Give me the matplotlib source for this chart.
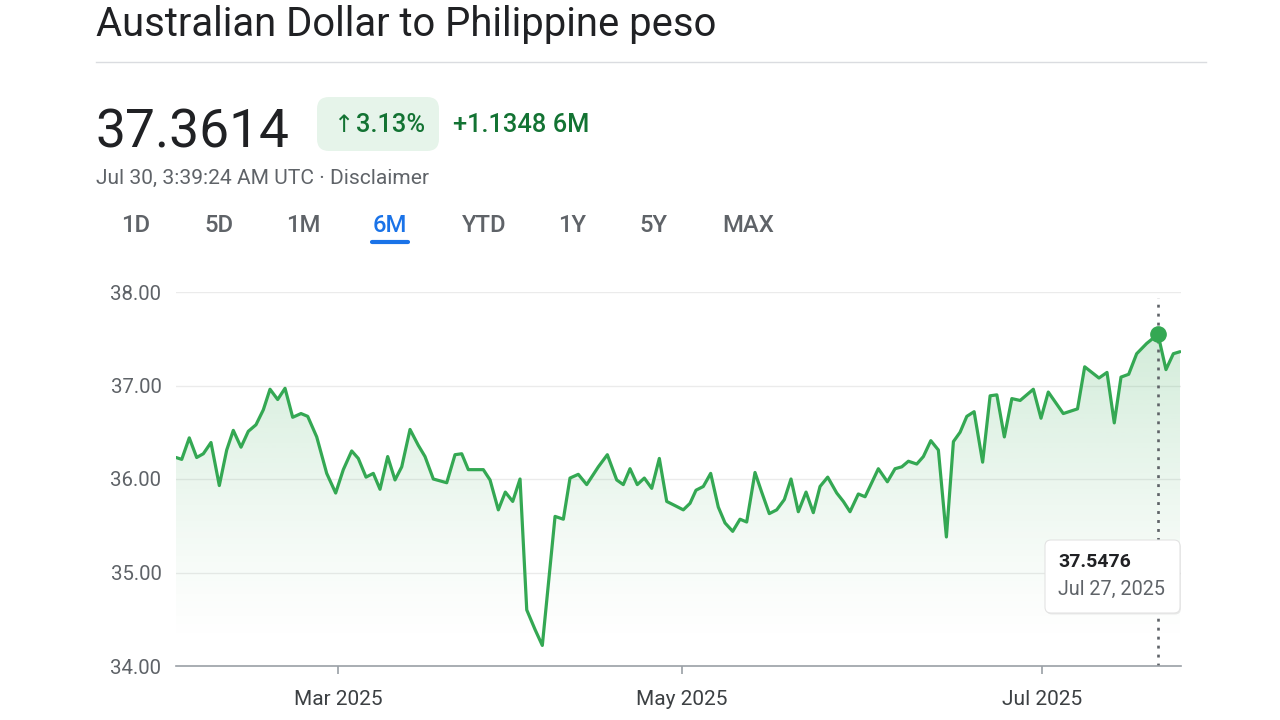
import datetime as dt

import numpy as np
from matplotlib import pyplot as plt
from matplotlib.lines import Line2D
from matplotlib.patches import FancyBboxPatch

plt.rcParams['font.family'] = ['Roboto', 'DejaVu Sans']

# AUD -> PHP, six months to Jul 30 2025 (x = days since Jan 30 2025)
start_date = dt.date(2025, 1, 30)
days = [0, 1.06, 2.46, 3.83, 5.06, 6.48, 8.02, 9.39, 10.61, 12.04, 13.39, 14.81, 16.17,
        17.41, 18.83, 20.19, 21.61, 23.15, 24.39, 26.06, 27.91, 29.57, 30.94, 32.43,
        33.6, 34.97, 36.26, 37.45, 38.81, 40.11, 41.3, 42.77, 44.24, 45.43, 46.9, 49.28,
        50.75, 51.94, 53.11, 55.77, 56.96, 58.43, 59.67, 60.98, 62.28, 63.47, 64.94,
        66.23, 68.49, 69.96, 71.14, 72.61, 74.1, 76.16, 77.76, 79.42, 80.59, 81.78, 83.07,
        84.32, 85.63, 86.98, 88.29, 89.94, 91.22, 92.36, 93.37, 94.61, 95.86, 97.15, 98.29,
        99.59, 100.83, 101.96, 103.37, 104.5, 105.79, 107.05, 108.34, 109.47, 110.71,
        112.02, 113.25, 114.39, 115.69, 117.22, 118.34, 119.47, 120.88, 122.02, 124.27,
        125.8, 127.1, 128.24, 129.36, 130.78, 131.9, 133.16, 134.44, 135.8, 136.99,
        138.12, 139.26, 140.5, 141.94, 143.21, 144.35, 145.62, 146.89, 148.3, 150.53,
        151.83, 153.41, 156.77, 159.96, 161.57, 164.77, 166.57, 168.2, 169.71, 171.43,
        173.22, 175.47, 178, 179.04, 180, 180.87]
rate = [36.23, 36.21, 36.44, 36.23, 36.27, 36.39, 35.93, 36.31, 36.52, 36.34, 36.51, 36.58,
        36.74, 36.96, 36.85, 36.97, 36.66, 36.70, 36.67, 36.45, 36.06, 35.85, 36.10, 36.30,
        36.22, 36.02, 36.06, 35.89, 36.24, 35.99, 36.13, 36.53, 36.36, 36.24, 36.00, 35.96,
        36.26, 36.27, 36.10, 36.10, 35.99, 35.67, 35.86, 35.76, 36.00, 34.60, 34.39, 34.22,
        35.60, 35.57, 36.01, 36.05, 35.94, 36.13, 36.26, 35.99, 35.94, 36.11, 35.94, 36.01,
        35.90, 36.22, 35.76, 35.71, 35.67, 35.74, 35.88, 35.92, 36.06, 35.70, 35.53, 35.44,
        35.57, 35.54, 36.07, 35.86, 35.63, 35.67, 35.78, 36.00, 35.65, 35.86, 35.64, 35.92,
        36.02, 35.85, 35.76, 35.65, 35.84, 35.81, 36.11, 35.97, 36.11, 36.13, 36.19, 36.16,
        36.24, 36.41, 36.31, 35.38, 36.40, 36.50, 36.67, 36.72, 36.18, 36.89, 36.90, 36.45,
        36.86, 36.84, 36.96, 36.65, 36.93, 36.70, 36.75, 37.20, 37.08, 37.14, 36.60, 37.09,
        37.12, 37.34, 37.45, 37.5476, 37.17, 37.34, 37.3614]

tick_dates = [dt.date(2025, 3, 1), dt.date(2025, 5, 1), dt.date(2025, 7, 1)]
tick_labels = ['Mar 2025', 'May 2025', 'Jul 2025']
y_ticks = [34, 35, 36, 37, 38]
ranges = ['1D', '5D', '1M', '6M', 'YTD', '1Y', '5Y', 'MAX']
range_x = [136, 219, 303, 390, 484, 572, 653, 748]
selected_range = '6M'
hover_date = dt.date(2025, 7, 27)
hover_value = 37.5476
end_date = dt.date(2025, 7, 30)

# the source chart spaces points by sample, not by calendar day:
# day -> horizontal position calibration taken from its month ticks
axis_days = [0, 30, 91, 152, 178, 181]
axis_pos = [0, 162, 506, 866, 982, 1005]

GREEN = '#34a853'
DARK_GREEN = '#137333'
GRAY = '#5f6368'


def fx(px):
    return px / 1280


def fy(py):
    return 1 - py / 720


def day_to_pos(d):
    return np.interp(d, axis_days, axis_pos)


def pos_to_day(p):
    return np.interp(p, axis_pos, axis_days)


fig = plt.figure(figsize=(12.8, 7.2), dpi=100)
fig.patch.set_facecolor('white')

# header
fig.text(fx(96), fy(36), 'Australian Dollar to Philippine peso', fontsize=28.8,
         color='#202124', va='baseline')
fig.add_artist(Line2D([fx(96), fx(1206)], [fy(62), fy(62)], color='#dadce0', lw=1))
fig.text(fx(95), fy(148), '37.3614', fontsize=38.3, color='#202124', va='baseline')
fig.patches.append(FancyBboxPatch((3.17, 5.69), 1.22, 0.54,
                                  boxstyle='round,pad=0,rounding_size=0.12',
                                  transform=fig.dpi_scale_trans, facecolor='#e6f4ea',
                                  edgecolor='none'))
fig.text(fx(333), fy(125), '↑', fontsize=17.5, color=DARK_GREEN, va='center',
         family=['DejaVu Sans'])
fig.text(fx(356), fy(125), '3.13%', fontsize=18.3, color=DARK_GREEN, va='center',
         fontweight='medium')
fig.text(fx(453), fy(125), '+1.1348 6M', fontsize=18.3, color=DARK_GREEN, va='center',
         fontweight='medium')
fig.text(fx(96), fy(178), 'Jul 30, 3:39:24 AM UTC · Disclaimer', fontsize=15.1,
         color=GRAY, va='center')

for label, px in zip(ranges, range_x):
    col = '#1a73e8' if label == selected_range else GRAY
    fig.text(fx(px), fy(226), label, fontsize=17.2, color=col, ha='center', va='center',
             fontweight='medium')
fig.add_artist(Line2D([fx(372), fx(408)], [fy(242), fy(242)], color='#1a73e8', lw=3,
                      solid_capstyle='round'))

# chart
ax = fig.add_axes([fx(176), fy(666), fx(1181) - fx(176), fy(292) - fy(666)])
ax.set_xscale('function', functions=(day_to_pos, pos_to_day))
end_day = (end_date - start_date).days

fill = ax.fill_between(days, rate, 34, color='none', lw=0)
alpha = np.linspace(0.34, 0.0, 256) ** 1.25
grad = np.zeros((256, 1, 4))
grad[..., 0] = 52 / 255
grad[..., 1] = 168 / 255
grad[..., 2] = 83 / 255
grad[:, 0, 3] = alpha
img = ax.imshow(grad, extent=[0, end_day, 34.2, 38], aspect='auto', origin='upper',
                zorder=1, interpolation='bilinear')
img.set_clip_path(fill.get_paths()[0], transform=ax.transData)
ax.set_xlim(0, end_day)
ax.set_ylim(34, 38)

ax.plot(days, rate, color=GREEN, lw=2.3, zorder=3, solid_joinstyle='round',
        solid_capstyle='round')

hover_day = (hover_date - start_date).days
ax.axvline(hover_day, ymax=0.985, color='#5f6368', lw=1.9, ls=(0, (1.1, 2.3)), zorder=2)
ax.plot([hover_day], [hover_value], 'o', color=GREEN, ms=11, zorder=4)

ax.set_yticks(y_ticks)
ax.set_yticklabels([f'{v:.2f}' for v in y_ticks])
ax.set_xticks([(d - start_date).days for d in tick_dates])
ax.set_xticklabels(tick_labels)
ax.xaxis.set_minor_locator(plt.NullLocator())
ax.grid(axis='y', color='#ebebeb', lw=1)
ax.set_axisbelow(True)
for side in ['top', 'right', 'left']:
    ax.spines[side].set_visible(False)
ax.spines['bottom'].set_color('#9aa0a6')
ax.spines['bottom'].set_linewidth(1.2)
ax.tick_params(axis='y', length=0, pad=10.5, labelsize=14.7, labelcolor=GRAY)
ax.tick_params(axis='x', length=6, width=1.2, color='#9aa0a6', pad=11, labelsize=15,
               labelcolor='#3c4043')

# tooltip
fig.patches.append(FancyBboxPatch((10.46, 1.055), 1.35, 0.73,
                                  boxstyle='round,pad=0,rounding_size=0.06',
                                  transform=fig.dpi_scale_trans, facecolor='#000000',
                                  alpha=0.08, edgecolor='none', zorder=4))
fig.patches.append(FancyBboxPatch((10.45, 1.07), 1.35, 0.73,
                                  boxstyle='round,pad=0,rounding_size=0.06',
                                  transform=fig.dpi_scale_trans, facecolor='white',
                                  edgecolor='#e3e3e3', lw=0.8, zorder=5))
fig.text(fx(1058), fy(562), f'{hover_value:.4f}', fontsize=14, fontweight='bold',
         color='#202124', va='center', zorder=6)
fig.text(fx(1058), fy(589), hover_date.strftime('%b %-d, %Y'), fontsize=14.2,
         color=GRAY, va='center', zorder=6)

plt.savefig('out.png', dpi=100)
